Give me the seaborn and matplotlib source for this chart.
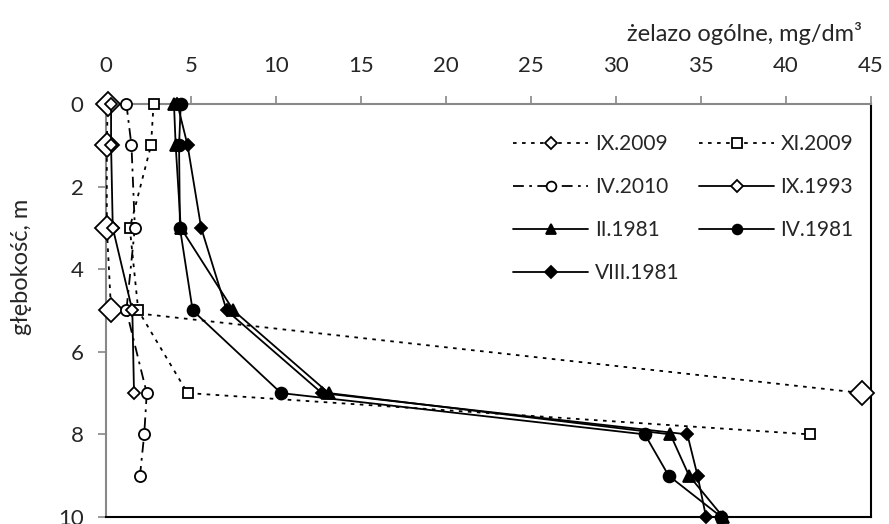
# Iron concentration vs depth profiles
import matplotlib
matplotlib.use("Agg")
import matplotlib.pyplot as plt
import seaborn as sns

# Data
depth_ix2009 = [0, 1, 3, 5, 7]
ix_2009 = [0.1, 0.05, 0.05, 0.3, 44.5]

depth_xi2009 = [0, 1, 3, 5, 7, 8]
xi_2009 = [2.8, 2.65, 1.4, 1.9, 4.8, 41.4]

depth_iv2010 = [0, 1, 3, 5, 7, 8, 9]
iv_2010 = [1.2, 1.5, 1.7, 1.2, 2.4, 2.25, 2.0]

depth_ix1993 = [0, 1, 3, 5, 7]
ix_1993 = [0.3, 0.3, 0.4, 1.55, 1.65]

depth_1981 = [0, 1, 3, 5, 7, 8, 9, 10]
ii_1981 = [4.0, 4.1, 4.4, 7.5, 13.1, 33.2, 34.3, 36.3]
iv_1981 = [4.4, 4.3, 4.35, 5.1, 10.3, 31.7, 33.1, 36.2]
viii_1981 = [4.2, 4.8, 5.6, 7.1, 12.7, 34.2, 34.8, 35.3]

x_ticks = [0, 5, 10, 15, 20, 25, 30, 35, 40, 45]
y_ticks = [0, 2, 4, 6, 8, 10]

sns.set_style("white")
plt.rcParams['font.family'] = ['Lato', 'DejaVu Sans']

fig = plt.figure(figsize=(8.89, 5.24), dpi=100)
ax = fig.add_axes([0.1192, 0.0134, 0.8605, 0.7882])

dotted = (0, (2, 3))
dashdot = (0, (6, 3, 1.5, 3))

series = [
    ("IX.2009", ix_2009, depth_ix2009, dotted, "D", "white", 12),
    ("XI.2009", xi_2009, depth_xi2009, dotted, "s", "white", 7),
    ("IV.2010", iv_2010, depth_iv2010, dashdot, "o", "white", 8),
    ("IX.1993", ix_1993, depth_ix1993, "-", "D", "white", 6),
    ("II.1981", ii_1981, depth_1981, "-", "^", "black", 9),
    ("IV.1981", iv_1981, depth_1981, "-", "o", "black", 8.5),
    ("VIII.1981", viii_1981, depth_1981, "-", "D", "black", 6.5),
]

for name, vals, dep, ls, mk, fc, ms in series:
    sns.lineplot(x=vals, y=dep, orient="y", sort=False, estimator=None,
                 errorbar=None, ax=ax, color="black", linestyle=ls, lw=1.3,
                 marker=mk, markerfacecolor=fc, markeredgecolor="black",
                 markeredgewidth=1.3, markersize=ms, label=name,
                 clip_on=False, zorder=3)

ax.set_xlim(0, 45)
ax.set_ylim(10, 0)
ax.set_xticks(x_ticks)
ax.set_yticks(y_ticks)
ax.xaxis.tick_top()
ax.xaxis.set_label_position("top")

ax.tick_params(axis="x", which="both", top=True, bottom=False, direction="out",
               length=6, width=1.2, color="#888888", pad=14, labelsize=16)
ax.tick_params(axis="y", which="both", left=True, right=False, direction="out",
               length=6, width=1.2, color="#888888", pad=10, labelsize=16)

for side in ["top", "left"]:
    ax.spines[side].set_color("#888888")
    ax.spines[side].set_linewidth(1.5)
for side in ["right", "bottom"]:
    ax.spines[side].set_color("black")
    ax.spines[side].set_linewidth(1.5)

ax.set_xlabel("żelazo ogólne, mg/dm³", fontsize=17)
ax.xaxis.label.set_ha("right")
ax.xaxis.label.set_va("center")
ax.xaxis.set_label_coords(0.988, 1.17)

ax.set_ylabel("głębokość, m", fontsize=17)
ax.yaxis.label.set_va("center")
ax.yaxis.set_label_coords(-0.11, 0.605)

# row-wise legend order like the original
handles, labels = ax.get_legend_handles_labels()
order = [0, 2, 4, 6, 1, 3, 5]
leg = ax.legend([handles[i] for i in order], [labels[i] for i in order],
                ncol=2, frameon=False, fontsize=15,
                loc="upper left", bbox_to_anchor=(503 / 889, 1 - 124 / 524),
                bbox_transform=fig.transFigure, borderpad=0,
                handlelength=3.6, handletextpad=0.3, columnspacing=0.95,
                labelspacing=1.1)
for h in leg.legend_handles:
    h.set_markersize(7 if h.get_marker() != "D" else 6)

plt.savefig("out.png", dpi=100)
